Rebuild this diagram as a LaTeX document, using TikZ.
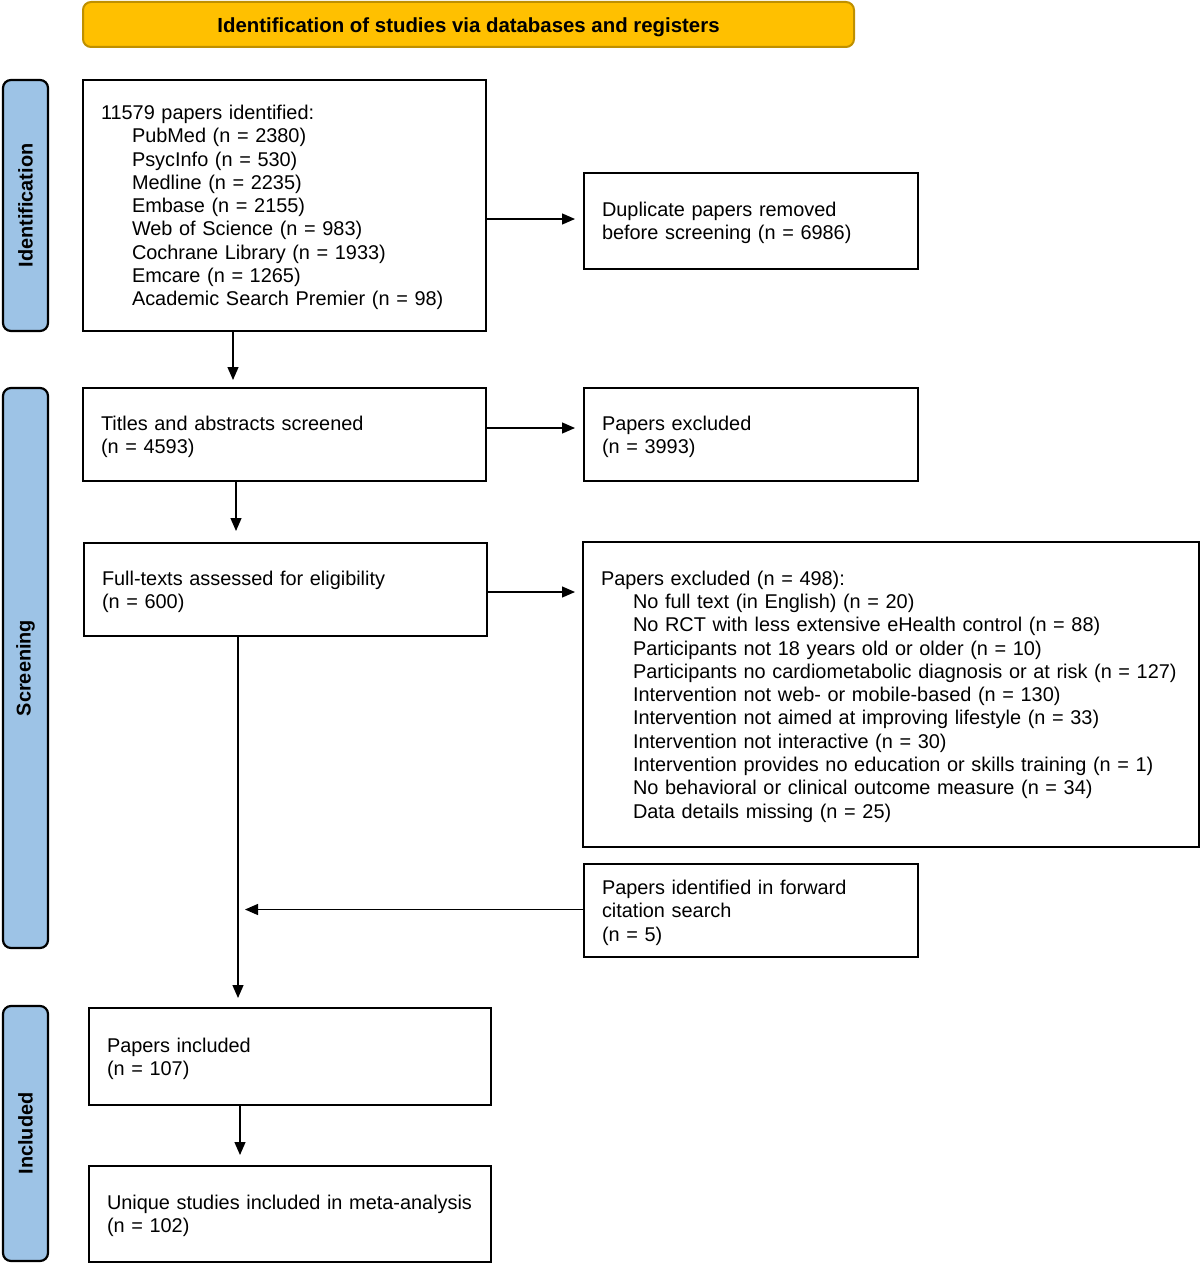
\documentclass[tikz,border=0pt]{standalone}
\usepackage{fontspec}
\setmainfont{Liberation Sans}
\usetikzlibrary{arrows.meta,calc}
\definecolor{bannerfill}{HTML}{FFC000}
\definecolor{bannerline}{HTML}{BF9000}
\definecolor{sidefill}{HTML}{9DC3E6}
\newcommand{\fsz}{\fontsize{19.9}{23.3}\selectfont}
\newcommand{\ind}{\hspace*{31pt}}
\begin{document}
\begin{tikzpicture}[x=1pt,y=-1pt,
  box/.style={draw, line width=2pt, anchor=north west, inner xsep=18pt, inner ysep=0pt, align=left, font=\fsz, execute at begin node={\rule{0pt}{18.5pt}}},
  side/.style={draw, line width=2.2pt, fill=sidefill, rounded corners=8pt, rotate=90, font=\fsz\bfseries, minimum height=45pt, inner sep=0pt},
  arr/.style={line width=1.3pt, -{Triangle[length=13pt,width=11pt]}}]
\useasboundingbox (0,0) rectangle (1200,1263);
\node[draw=bannerline, line width=2pt, fill=bannerfill, rounded corners=8pt, minimum width=771pt, minimum height=45pt, text height=15.6pt, text depth=0pt, font=\fontsize{20.4}{24}\selectfont\bfseries] (banner) at (468.5,24.5) {Identification of studies via databases and registers};
\node[side, minimum width=251pt] (sid) at (25.5,205.5) {Identification};
\node[side, minimum width=560pt] (sscr) at (25.5,668) {Screening};
\node[side, minimum width=255pt] (sinc) at (25.5,1133.5) {Included};

\node[box, minimum width=403pt, text width=367pt, minimum height=251pt] (ident) at (82,79) {11579 papers identified:\\
\ind PubMed (n = 2380)\\
\ind PsycInfo (n = 530)\\
\ind Medline (n = 2235)\\
\ind Embase (n = 2155)\\
\ind Web of Science (n = 983)\\
\ind Cochrane Library (n = 1933)\\
\ind Emcare (n = 1265)\\
\ind Academic Search Premier (n = 98)};
\node[box, minimum width=334pt, text width=298pt, minimum height=96pt] (dup) at (583,172) {Duplicate papers removed\\before screening (n = 6986)};
\node[box, minimum width=403pt, text width=367pt, minimum height=93pt] (titles) at (82,387) {Titles and abstracts screened\\(n = 4593)};
\node[box, minimum width=334pt, text width=298pt, minimum height=93pt] (excla) at (583,387) {Papers excluded\\(n = 3993)};
\node[box, minimum width=403pt, text width=367pt, minimum height=93pt] (full) at (83,542) {Full-texts assessed for eligibility\\(n = 600)};
\node[box, minimum width=616pt, text width=580pt, minimum height=305pt] (exclb) at (582,541) {Papers excluded (n = 498):\\
\hspace*{32pt}No full text (in English) (n = 20)\\
\hspace*{32pt}No RCT with less extensive eHealth control (n = 88)\\
\hspace*{32pt}Participants not 18 years old or older (n = 10)\\
\hspace*{32pt}Participants no cardiometabolic diagnosis or at risk (n = 127)\\
\hspace*{32pt}Intervention not web- or mobile-based (n = 130)\\
\hspace*{32pt}Intervention not aimed at improving lifestyle (n = 33)\\
\hspace*{32pt}Intervention not interactive (n = 30)\\
\hspace*{32pt}Intervention provides no education or skills training (n = 1)\\
\hspace*{32pt}No behavioral or clinical outcome measure (n = 34)\\
\hspace*{32pt}Data details missing (n = 25)};
\node[box, minimum width=334pt, text width=298pt, minimum height=93pt] (fwd) at (583,863) {Papers identified in forward\\citation search\\(n = 5)};
\node[box, minimum width=402pt, text width=366pt, minimum height=97pt] (inc) at (88,1007) {Papers included\\(n = 107)};
\node[box, minimum width=402pt, text width=366pt, minimum height=96pt] (uniq) at (88,1165) {Unique studies included in meta-analysis\\(n = 102)};

\draw[arr, shorten >=8pt] ([yshift=2pt]dup.west -| ident.east) -- ([yshift=2pt]dup.west);
\draw[arr, shorten >=7pt] ([xshift=-51.5pt]ident.south) -- ([xshift=-51.5pt]ident.south |- titles.north);
\draw[arr, shorten >=8pt] ([yshift=6.5pt]titles.east) -- ([yshift=6.5pt]excla.west);
\draw[arr, shorten >=11pt] ([xshift=-48.5pt]titles.south) -- ([xshift=-48.5pt]titles.south |- full.north);
\draw[arr, shorten >=7pt] ([yshift=-2.5pt]full.east) -- ([yshift=-2.5pt]full.east -| exclb.west);
\coordinate (vtop) at ([xshift=-47.5pt]full.south);
\draw[arr, shorten >=9pt] (vtop) -- (vtop |- inc.north);
\draw[arr, shorten >=7pt] ([yshift=1pt]fwd.west) -- ([yshift=1pt]fwd.west -| vtop);
\draw[arr, shorten >=10pt] ([xshift=-50pt]inc.south) -- ([xshift=-50pt]inc.south |- uniq.north);
\end{tikzpicture}
\end{document}
